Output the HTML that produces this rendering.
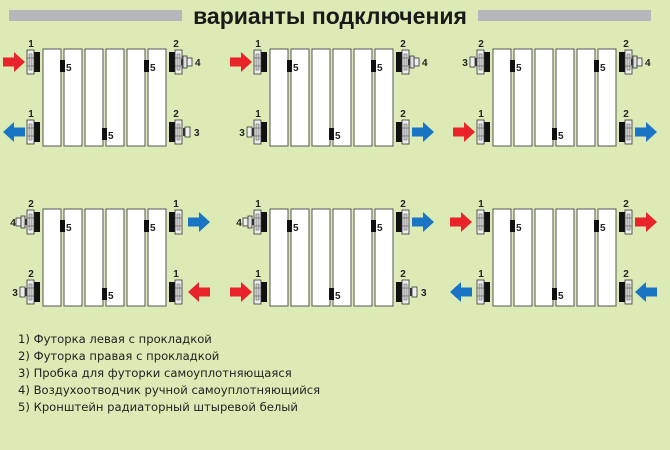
<!DOCTYPE html>
<html><head><meta charset="utf-8"><style>
html,body{margin:0;padding:0;background:#dcebb6;}
svg{display:block;}
.n{font-family:"Liberation Sans",sans-serif;font-size:10px;font-weight:bold;fill:#222;}
.lg{font-family:"DejaVu Sans","Liberation Sans",sans-serif;font-size:11.6px;fill:#222;}
</style></head><body>
<svg width="670" height="450" viewBox="0 0 670 450" xmlns="http://www.w3.org/2000/svg">
<defs>
<g id="rad">
<rect x="0" y="0" width="18" height="97" fill="#fff" stroke="#555" stroke-width="1"/>
<rect x="21" y="0" width="18" height="97" fill="#fff" stroke="#555" stroke-width="1"/>
<rect x="42" y="0" width="18" height="97" fill="#fff" stroke="#555" stroke-width="1"/>
<rect x="63" y="0" width="18" height="97" fill="#fff" stroke="#555" stroke-width="1"/>
<rect x="84" y="0" width="18" height="97" fill="#fff" stroke="#555" stroke-width="1"/>
<rect x="105" y="0" width="18" height="97" fill="#fff" stroke="#555" stroke-width="1"/>
<rect x="17" y="11" width="5" height="12" fill="#111"/>
<rect x="101" y="11" width="5" height="12" fill="#111"/>
<rect x="59" y="79" width="5" height="12" fill="#111"/>
</g>
<g id="fit">
<rect x="-9" y="-10" width="6" height="20" fill="#111"/>
<rect x="-16" y="-12" width="7" height="24" fill="#eee" stroke="#333" stroke-width="0.8"/>
<rect x="-14" y="-8" width="3" height="16" fill="#ccc" stroke="#555" stroke-width="0.5"/>
<line x1="-16" y1="-4" x2="-9" y2="-4" stroke="#555" stroke-width="0.6"/>
<line x1="-16" y1="4" x2="-9" y2="4" stroke="#555" stroke-width="0.6"/>
</g>
<g id="p4">
<rect x="-10" y="-4" width="5" height="8" fill="#eee" stroke="#333" stroke-width="0.8"/>
<rect x="-5" y="-6" width="4" height="12" fill="#ddd" stroke="#333" stroke-width="0.8"/>
<rect x="-1" y="-3" width="2" height="6" fill="#333"/>
</g>
<g id="p3">
<rect x="-7" y="-5" width="5" height="10" fill="#eee" stroke="#333" stroke-width="0.8"/>
<rect x="-2" y="-4" width="2" height="8" fill="#333"/>
</g>
<path id="ar" d="M0,-4.5 H11 V-10 L22,0 L11,10 V4.5 H0 Z"/>
</defs>

<!-- title -->
<rect x="9" y="10" width="173" height="11" fill="#b5b8ba"/>
<rect x="478" y="10" width="173" height="11" fill="#b5b8ba"/>
<text x="330" y="24" text-anchor="middle" font-family="Liberation Sans, sans-serif" font-size="23" font-weight="bold" fill="#1a1a1a">варианты подключения</text>

<!-- R(0,0) x0=43 y0=49 -->
<use href="#rad" x="43" y="49"/>
<text class="n" x="66" y="71">5</text><text class="n" x="150" y="71">5</text><text class="n" x="108" y="139">5</text>
<use href="#fit" transform="translate(43,62)"/><use href="#fit" transform="translate(43,132)"/>
<use href="#fit" transform="translate(166,62) scale(-1,1)"/><use href="#fit" transform="translate(166,132) scale(-1,1)"/>
<text class="n" x="31" y="47" text-anchor="middle">1</text><text class="n" x="31" y="117" text-anchor="middle">1</text>
<text class="n" x="176" y="47" text-anchor="middle">2</text><text class="n" x="176" y="117" text-anchor="middle">2</text>
<use href="#ar" fill="#e8242a" transform="translate(3,62)"/>
<use href="#ar" fill="#1a74c4" transform="translate(25,132) scale(-1,1)"/>
<use href="#p4" transform="translate(182,62) scale(-1,1)"/><text class="n" x="195" y="66">4</text>
<use href="#p3" transform="translate(183,132) scale(-1,1)"/><text class="n" x="194" y="136">3</text>

<!-- R(1,0) x0=270 -->
<use href="#rad" x="270" y="49"/>
<text class="n" x="293" y="71">5</text><text class="n" x="377" y="71">5</text><text class="n" x="335" y="139">5</text>
<use href="#fit" transform="translate(270,62)"/><use href="#fit" transform="translate(270,132)"/>
<use href="#fit" transform="translate(393,62) scale(-1,1)"/><use href="#fit" transform="translate(393,132) scale(-1,1)"/>
<text class="n" x="258" y="47" text-anchor="middle">1</text><text class="n" x="258" y="117" text-anchor="middle">1</text>
<text class="n" x="403" y="47" text-anchor="middle">2</text><text class="n" x="403" y="117" text-anchor="middle">2</text>
<use href="#ar" fill="#e8242a" transform="translate(230,62)"/>
<use href="#p3" transform="translate(254,132)"/><text class="n" x="242" y="136" text-anchor="middle">3</text>
<use href="#p4" transform="translate(409,62) scale(-1,1)"/><text class="n" x="422" y="66">4</text>
<use href="#ar" fill="#1a74c4" transform="translate(412,132)"/>

<!-- R(2,0) x0=493 -->
<use href="#rad" x="493" y="49"/>
<text class="n" x="516" y="71">5</text><text class="n" x="600" y="71">5</text><text class="n" x="558" y="139">5</text>
<use href="#fit" transform="translate(493,62)"/><use href="#fit" transform="translate(493,132)"/>
<use href="#fit" transform="translate(616,62) scale(-1,1)"/><use href="#fit" transform="translate(616,132) scale(-1,1)"/>
<text class="n" x="481" y="47" text-anchor="middle">2</text><text class="n" x="481" y="117" text-anchor="middle">1</text>
<text class="n" x="626" y="47" text-anchor="middle">2</text><text class="n" x="626" y="117" text-anchor="middle">2</text>
<use href="#p3" transform="translate(477,62)"/><text class="n" x="465" y="66" text-anchor="middle">3</text>
<use href="#ar" fill="#e8242a" transform="translate(453,132)"/>
<use href="#p4" transform="translate(632,62) scale(-1,1)"/><text class="n" x="645" y="66">4</text>
<use href="#ar" fill="#1a74c4" transform="translate(635,132)"/>

<!-- R(0,1) y0=209 -->
<use href="#rad" x="43" y="209"/>
<text class="n" x="66" y="231">5</text><text class="n" x="150" y="231">5</text><text class="n" x="108" y="299">5</text>
<use href="#fit" transform="translate(43,222)"/><use href="#fit" transform="translate(43,292)"/>
<use href="#fit" transform="translate(166,222) scale(-1,1)"/><use href="#fit" transform="translate(166,292) scale(-1,1)"/>
<text class="n" x="31" y="207" text-anchor="middle">2</text><text class="n" x="31" y="277" text-anchor="middle">2</text>
<text class="n" x="176" y="207" text-anchor="middle">1</text><text class="n" x="176" y="277" text-anchor="middle">1</text>
<use href="#p4" transform="translate(26,222)"/><text class="n" x="13" y="226" text-anchor="middle">4</text>
<use href="#p3" transform="translate(27,292)"/><text class="n" x="15" y="296" text-anchor="middle">3</text>
<use href="#ar" fill="#1a74c4" transform="translate(188,222)"/>
<use href="#ar" fill="#e8242a" transform="translate(210,292) scale(-1,1)"/>

<!-- R(1,1) -->
<use href="#rad" x="270" y="209"/>
<text class="n" x="293" y="231">5</text><text class="n" x="377" y="231">5</text><text class="n" x="335" y="299">5</text>
<use href="#fit" transform="translate(270,222)"/><use href="#fit" transform="translate(270,292)"/>
<use href="#fit" transform="translate(393,222) scale(-1,1)"/><use href="#fit" transform="translate(393,292) scale(-1,1)"/>
<text class="n" x="258" y="207" text-anchor="middle">1</text><text class="n" x="258" y="277" text-anchor="middle">1</text>
<text class="n" x="403" y="207" text-anchor="middle">2</text><text class="n" x="403" y="277" text-anchor="middle">2</text>
<use href="#p4" transform="translate(253,222)"/><text class="n" x="239" y="226" text-anchor="middle">4</text>
<use href="#ar" fill="#e8242a" transform="translate(230,292)"/>
<use href="#ar" fill="#1a74c4" transform="translate(412,222)"/>
<use href="#p3" transform="translate(410,292) scale(-1,1)"/><text class="n" x="421" y="296">3</text>

<!-- R(2,1) -->
<use href="#rad" x="493" y="209"/>
<text class="n" x="516" y="231">5</text><text class="n" x="600" y="231">5</text><text class="n" x="558" y="299">5</text>
<use href="#fit" transform="translate(493,222)"/><use href="#fit" transform="translate(493,292)"/>
<use href="#fit" transform="translate(616,222) scale(-1,1)"/><use href="#fit" transform="translate(616,292) scale(-1,1)"/>
<text class="n" x="481" y="207" text-anchor="middle">1</text><text class="n" x="481" y="277" text-anchor="middle">1</text>
<text class="n" x="626" y="207" text-anchor="middle">2</text><text class="n" x="626" y="277" text-anchor="middle">2</text>
<use href="#ar" fill="#e8242a" transform="translate(450,222)"/>
<use href="#ar" fill="#1a74c4" transform="translate(472,292) scale(-1,1)"/>
<use href="#ar" fill="#e8242a" transform="translate(635,222)"/>
<use href="#ar" fill="#1a74c4" transform="translate(657,292) scale(-1,1)"/>

<!-- legend -->
<text class="lg" x="18" y="343">1) Футорка левая с прокладкой</text>
<text class="lg" x="18" y="360">2) Футорка правая с прокладкой</text>
<text class="lg" x="18" y="377">3) Пробка для футорки самоуплотняющаяся</text>
<text class="lg" x="18" y="394">4) Воздухоотводчик ручной самоуплотняющийся</text>
<text class="lg" x="18" y="411">5) Кронштейн радиаторный штыревой белый</text>
</svg>
</body></html>
